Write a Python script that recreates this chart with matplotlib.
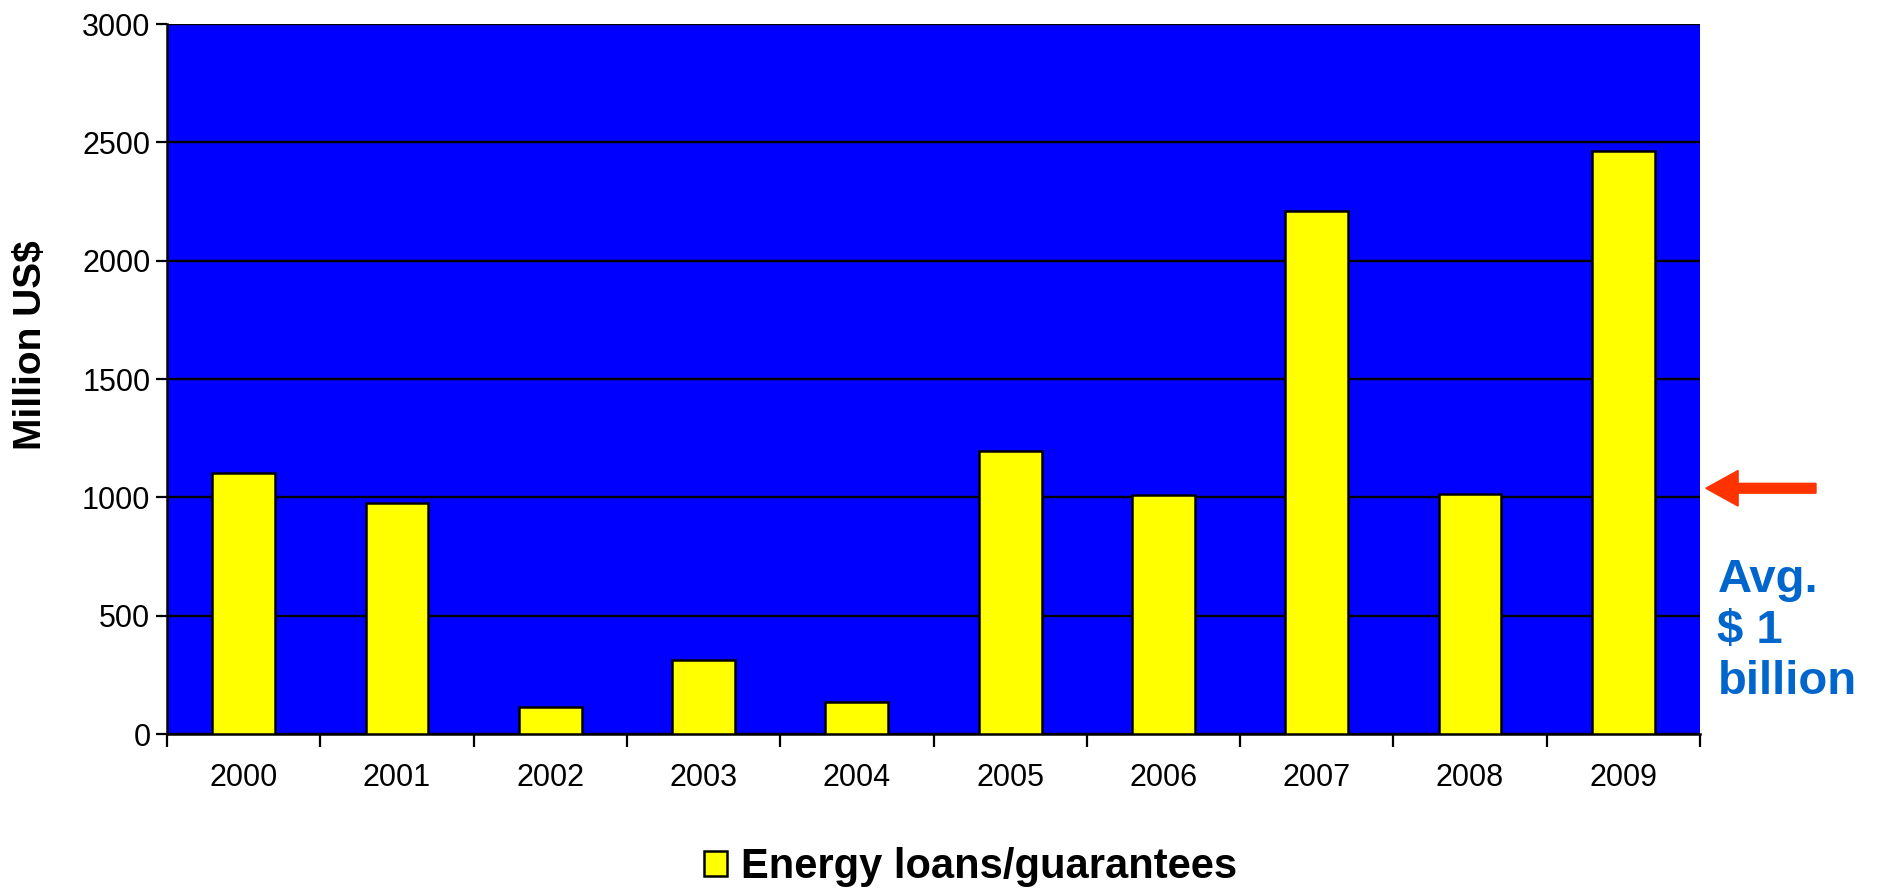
import matplotlib
matplotlib.use("Agg")
import numpy as np
import matplotlib.pyplot as plt
from matplotlib.patches import FancyArrow

plt.rcParams['font.family'] = ['Liberation Sans', 'DejaVu Sans']

years = ['2000', '2001', '2002', '2003', '2004', '2005', '2006', '2007', '2008', '2009']
loans = [1105, 976, 115, 313, 137, 1197, 1011, 2211, 1015, 2462]
yticks = [0, 500, 1000, 1500, 2000, 2500, 3000]

fig = plt.figure(figsize=(18.77, 8.91), dpi=100)
ax = fig.add_axes([0.089, 0.176, 0.8167, 0.797])
ax.set_facecolor('#0000FF')

x = np.arange(len(years))
ax.set_axisbelow(True)
ax.yaxis.grid(True, color='black', linewidth=1.7)
ax.bar(x, loans, width=0.41, color='#FFFF00', edgecolor='black', linewidth=1.8,
       label='Energy loans/guarantees', zorder=3)

ax.set_xlim(-0.5, len(years) - 0.5)
ax.set_ylim(0, 3000)
ax.set_yticks(yticks)
ax.set_yticklabels([str(v) for v in yticks], fontsize=22)

# ticks at the category borders, labels at the centres
ax.set_xticks(np.arange(-0.5, len(years)), labels=[''] * (len(years) + 1))
ax.set_xticks(x, labels=years, minor=True)
ax.tick_params(axis='x', which='major', length=9, width=1.6, direction='out')
ax.tick_params(axis='x', which='minor', length=0, pad=21, labelsize=22)
ax.tick_params(axis='y', length=8, width=1.6, direction='out', pad=4)

for s in ['top', 'right']:
    ax.spines[s].set_visible(False)
for s in ['left', 'bottom']:
    ax.spines[s].set_linewidth(1.8)

fig.text(0.0165, 0.613, 'Million US$', fontsize=28, fontweight='bold',
         rotation=90, ha='center', va='center')

leg = fig.legend(loc='center', bbox_to_anchor=(0.517, 0.027), frameon=False,
                 prop={'size': 30, 'weight': 'bold'}, handlelength=0.55,
                 handleheight=0.55, handletextpad=0.33)

# average annotation
fig.patches.append(FancyArrow(0.9675, 0.452, -0.0587, 0, width=0.011, head_width=0.04,
                              head_length=0.0172, length_includes_head=True,
                              color='#FF3300', transform=fig.transFigure))
fig.text(0.915, 0.292, 'Avg.\n$ 1\nbillion', color='#0066CC', fontsize=34,
         fontweight='bold', ha='left', va='center', linespacing=1.2)

fig.savefig('out.png', dpi=100)
